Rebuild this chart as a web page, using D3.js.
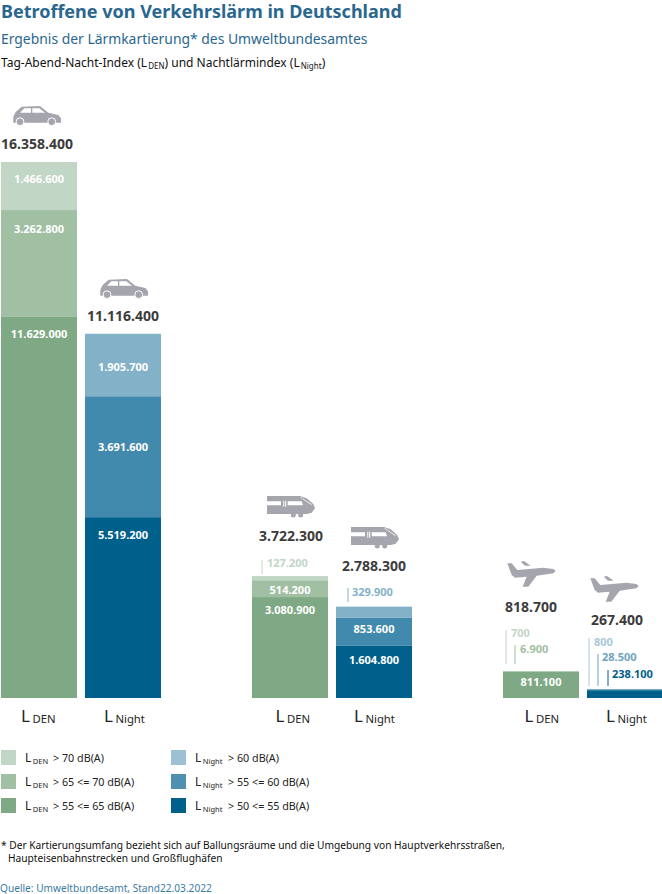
<!DOCTYPE html>
<html><head><meta charset="utf-8">
<script src="https://cdn.jsdelivr.net/npm/d3@7"></script>
<style>html,body{margin:0;padding:0;background:#fff}svg{display:block}text{font-family:"Noto Sans",sans-serif}</style>
</head><body><div id="c"></div>
<script>
const barKeys = ["carDen","carNight","railDen","railNight","airDen","airNight"];
const totals = [16358400,11116400,3722300,2788300,818700,267400];
const bottomSegment = [11629000,5519200,3080900,1604800,811100,238100];
const middleSegment = [3262800,3691600,514200,853600,6900,28500];
const topSegment = [1466600,1905700,127200,329900,700,800];
const denColors = ["#7fa985","#a0bfa3","#c2d6c6"];
const nightColors = ["#00608c","#428aad","#83b2c8"];
const nightLegendColors = ["#00608c","#4f8fb0","#9dc0d3"];
const legendLabels = ["> 70 dB(A)","> 65 <= 70 dB(A)","> 55 <= 65 dB(A)"];
const nightLegendLabels = ["> 60 dB(A)","> 55 <= 60 dB(A)","> 50 <= 55 dB(A)"];
const fmt = v => d3.format(",")(v).replace(/,/g,".");

const W=662,H=894;
const svg=d3.select("#c").append("svg").attr("width",W).attr("height",H);
const y=d3.scaleLinear().domain([0,16358400]).range([698,162]);
const x=d3.scaleOrdinal().domain(barKeys).range([1,85,252,336,503,587]);
const bw=76;
const blue="#2a678f", dark="#3c3c3c";

function label(t,px,py,o={}){
  return svg.append("text").attr("x",px).attr("y",py).text(t)
   .attr("font-size",o.size||11.5).attr("font-weight",o.weight||400).attr("fill",o.fill||"#111")
   .attr("text-anchor",o.anchor||"start");
}
// header
label("Betroffene von Verkehrslärm in Deutschland",1,18,{size:18,weight:700,fill:blue});
label("Ergebnis der Lärmkartierung* des Umweltbundesamtes",1,44,{size:13.9,fill:blue});
const h=svg.append("text").attr("x",1).attr("y",67).attr("font-size",12).attr("fill","#111");
h.append("tspan").text("Tag-Abend-Nacht-Index (L");
h.append("tspan").attr("dy",2).attr("font-size",8).attr("dx",1).text("DEN");
h.append("tspan").attr("dy",-2).text(") und Nachtlärmindex (L");
h.append("tspan").attr("dy",2).attr("font-size",8).attr("dx",1).text("Night");
h.append("tspan").attr("dy",-2).text(")");

// bars
const nodes=barKeys.map((k,i)=>({k,i,segs:[bottomSegment[i],middleSegment[i],topSegment[i]],colors:i%2?nightColors:denColors}));
nodes.forEach(n=>{
  let acc=0;
  n.segs.forEach((v,j)=>{
    const y1=y(acc); acc+=v; const y0=y(acc);
    svg.append("rect").attr("x",x(n.k)).attr("y",y0).attr("width",n.i===5?75:bw).attr("height",Math.max(0,y1-y0)).attr("fill",n.colors[j]);
  });
});
// value labels inside bars: [bar, seg, y]
const inside=[[0,2,183],[0,1,233],[0,0,338],[1,2,371],[1,1,451],[1,0,539],[2,1,594],[2,0,614],[3,1,633],[3,0,664],[4,0,686]];
inside.forEach(([b,s,py])=>{
  label(fmt(nodes[b].segs[s]),x(barKeys[b])+bw/2,py,{size:11,weight:700,fill:"#fff",anchor:"middle"});
});
// callouts: [bar, seg, tick x, y0, y1, text x, baseline, colour]
const call=[[2,2,262,560,574,267,567,"#c2d6c6"],[3,2,348,588,602,352,596,"#83b2c8"],
 [4,2,506,630,664,511,637,"#c2d6c6"],[4,1,515,645,664,520,653,"#a0bfa3"],
 [5,2,589,638,686,594,646,"#a9c8d8"],[5,1,598,654,686,602,661,"#6fa3bf"],[5,0,608,670,686,612,678,"#00608c"]];
call.forEach(([b,s,tx,a,c,lx,ly,col])=>{
  svg.append("line").attr("x1",tx).attr("x2",tx).attr("y1",a).attr("y2",c).attr("stroke",col).attr("stroke-width",1);
  label(fmt(nodes[b].segs[s]),lx,ly,{size:11,weight:700,fill:col});
});
// totals
const totalY=[149,321,541,571,612,625];
const totalCx=[37,123,291,374,531,617];
totals.forEach((v,i)=>label(fmt(v),totalCx[i],totalY[i],{size:14,weight:700,fill:dark,anchor:"middle"}));

// icons
const grey="#a5a6ad";
const car="M.3,10.7 L2.7,6 L8.7,.7 L27,0 L35.3,6.7 L45.3,9 L48,12.3 L48,16.7 L.3,16.7 Z M11.3,2.3 L18,2.3 L18,6.7 L7,6.7 Z M19.3,2.3 L26.3,2.3 L32,6.7 L19.3,6.7 Z";
const train="M0,0 L33,0 L39.7,2.3 L46.3,8 L48,12.3 L44.7,16.7 L39.7,18 L0,18 Z M0,5.3 L14,5.3 L14,9.3 L0,9.3 Z M16.3,4.7 L17.3,4.7 L17.3,10.7 L16.3,10.7 Z M18.2,4.7 L19.2,4.7 L19.2,10.7 L18.2,10.7 Z M20.7,5.3 L34.7,5.3 L36,9.3 L20.7,9.3 Z M33,1.2 L34,1.2 L45,8.5 L44,8.7 Z";
const plane="M.3,2.3 L4.7,2.3 L10.3,9 L36.3,6.7 L46.3,8 L48.7,10 L46.3,12.3 L29.7,14.7 L21.3,25.7 L15.7,25.7 L19.7,15.7 L8,16.7 L4.7,14 Z M13.7,.7 L17,0 L23.7,4.7 L18,4.7 Z";
function icon(d,px,py){svg.append("path").attr("d",d).attr("transform",`translate(${px},${py})`).attr("fill",grey).attr("fill-rule","evenodd");}
function wheels(cs,cy,r,ring){cs.forEach(c=>svg.append("circle").attr("cx",c).attr("cy",cy).attr("r",r).attr("fill",grey).attr("stroke",ring?"#fff":"none").attr("stroke-width",ring?1:0));}
icon(car,13,106); wheels([20,51.7],121.7,3.9,true);
icon(car,100,279); wheels([107,138.7],294.7,3.9,true);
icon(train,267,496); wheels([293.3,300.7],515,2.5);
icon(train,351,527); wheels([377.3,384.7],546,2.5);
icon(plane,507,561);
icon(plane,590,576);

// axis labels
const axisLabelX=[21,104,275.5,354,524.5,606];
barKeys.forEach((k,i)=>{
  const t=svg.append("text").attr("x",axisLabelX[i]).attr("y",722).attr("font-size",17).attr("fill","#222");
  t.append("tspan").text("L");
  t.append("tspan").attr("dx",2.5).attr("dy",1).attr("font-size",11.3).text(i%2?"Night":"DEN");
});

// legend
const legY=d3.scalePoint().domain([0,1,2]).range([750,798]);
[[1,25,denColors,"DEN",legendLabels,53],[171,195,nightLegendColors,"Night",nightLegendLabels,228]].forEach(([sx,tx,cols,sub,labs,vx])=>{
  labs.forEach((l,j)=>{
    svg.append("rect").attr("x",sx).attr("y",legY(j)).attr("width",15).attr("height",15).attr("fill",cols[2-j]);
    const t=svg.append("text").attr("x",tx).attr("y",legY(j)+12).attr("font-size",12).attr("fill","#222");
    t.append("tspan").text("L");
    t.append("tspan").attr("dx",1.5).attr("dy",2).attr("font-size",7.5).text(sub);
    label(l,vx,legY(j)+12,{size:10.75,fill:"#222"});
  });
});
// notes
label("* Der Kartierungsumfang bezieht sich auf Ballungsräume und die Umgebung von Hauptverkehrsstraßen,",1,849,{size:10.2,fill:"#111"});
label("Haupteisenbahnstrecken und Großflughäfen",8,862,{size:10.2,fill:"#111"});
label("Quelle: Umweltbundesamt, Stand22.03.2022",0,892,{size:10.15,fill:"#3b7ba3"});
</script></body></html>
